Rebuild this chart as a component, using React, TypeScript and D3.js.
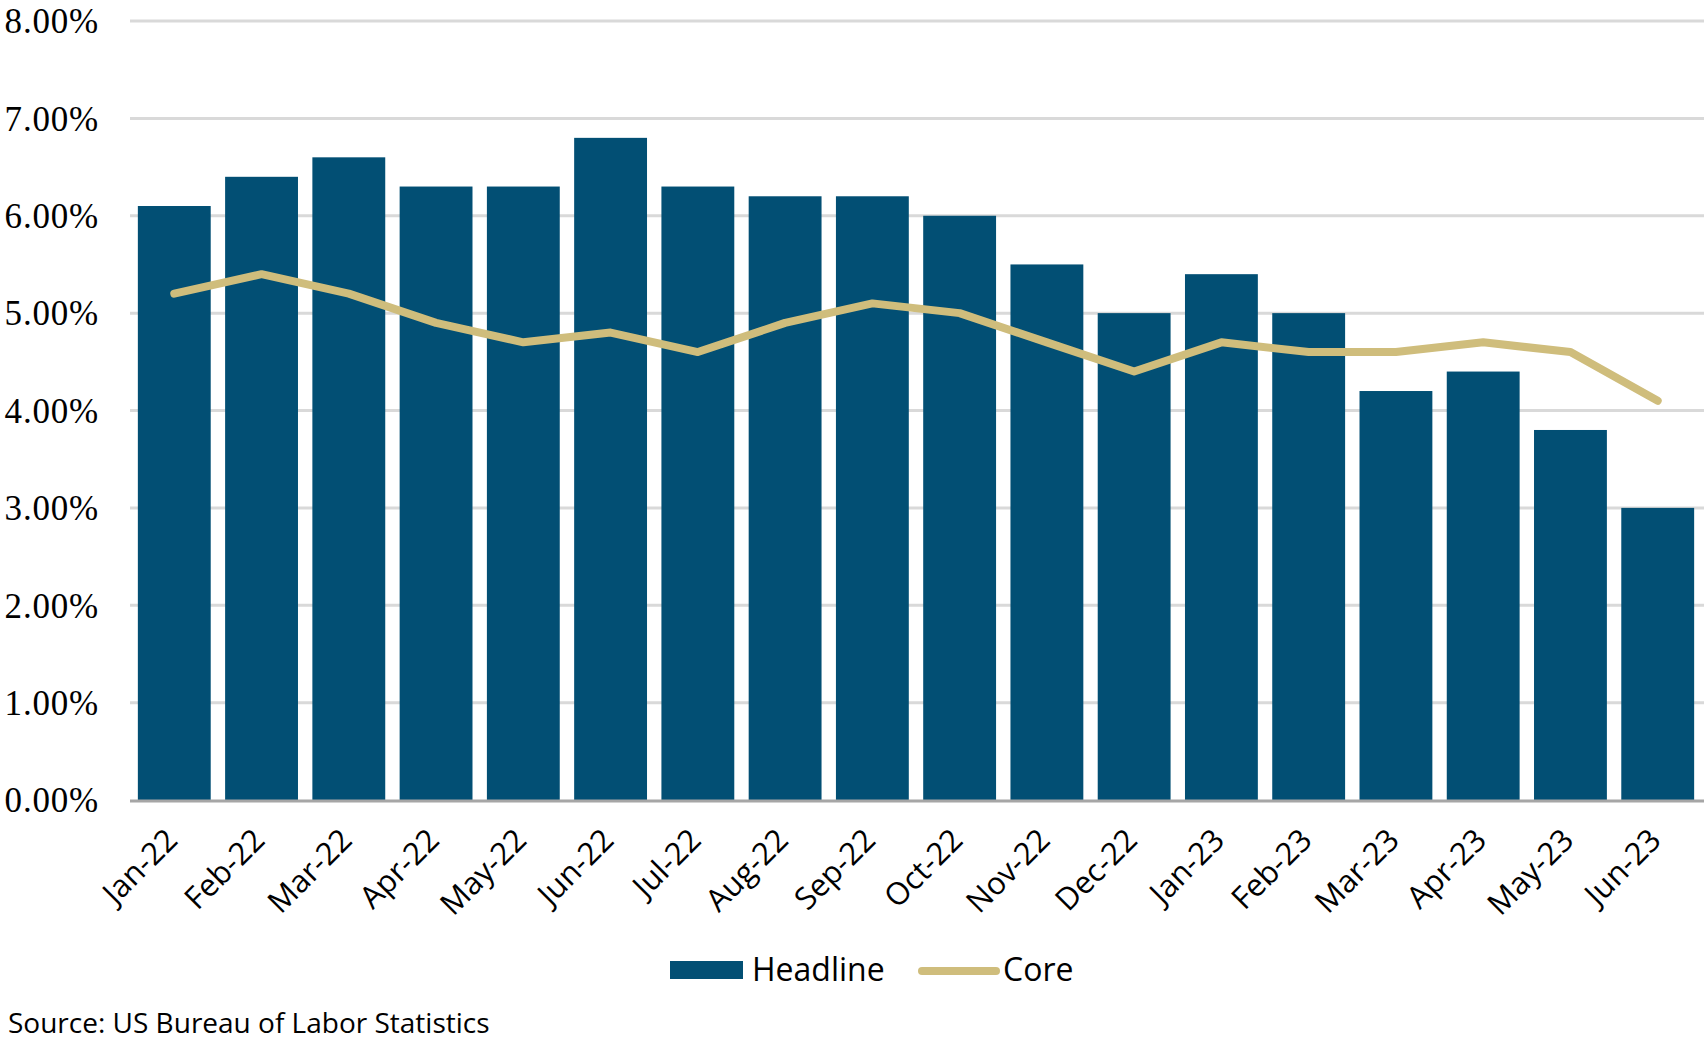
import React, { useEffect, useRef } from "react";
import * as d3 from "d3";

const categories = ["Jan-22","Feb-22","Mar-22","Apr-22","May-22","Jun-22","Jul-22","Aug-22","Sep-22","Oct-22","Nov-22","Dec-22","Jan-23","Feb-23","Mar-23","Apr-23","May-23","Jun-23"];
const headline = [6.1,6.4,6.6,6.3,6.3,6.8,6.3,6.2,6.2,6.0,5.5,5.0,5.4,5.0,4.2,4.4,3.8,3.0];
const core = [5.2,5.4,5.2,4.9,4.7,4.8,4.6,4.9,5.1,5.0,4.7,4.4,4.7,4.6,4.6,4.7,4.6,4.1];
const yTicks = [0,1,2,3,4,5,6,7,8];
const seriesNames = ["Headline","Core"];
const sourceText = "Source: US Bureau of Labor Statistics";

const BAR = "#024f74";
const LINE = "#cfbd7c";

export default function App() {
  const ref = useRef<SVGSVGElement>(null);
  useEffect(() => {
    const svg = d3.select(ref.current);
    svg.selectAll("*").remove();
    const x = d3.scaleBand<string>().domain(categories).range([130, 1702]).paddingInner(0.165).paddingOuter(0.09);
    const y = d3.scaleLinear().domain([0, 8]).range([800, 21]);

    // gridlines
    svg.append("g").selectAll("line").data(yTicks.filter(t => t > 0)).join("line")
      .attr("x1", 130).attr("x2", 1704)
      .attr("y1", d => y(d)).attr("y2", d => y(d))
      .attr("stroke", "#d9d9d9").attr("stroke-width", 3);

    // y labels
    svg.append("g").selectAll("text").data(yTicks).join("text")
      .attr("x", 99).attr("y", d => y(d)).attr("dy", "0.35em")
      .attr("text-anchor", "end")
      .attr("font-family", "'Liberation Serif', serif").attr("font-size", 35)
      .attr("letter-spacing", 0.8).attr("fill", "#000")
      .text(d => d.toFixed(2) + "%");

    // bars
    svg.append("g").selectAll("rect").data(headline).join("rect")
      .attr("x", (_, i) => x(categories[i])!)
      .attr("width", x.bandwidth())
      .attr("y", d => y(d))
      .attr("height", d => y(0) - y(d))
      .attr("fill", BAR);

    // axis line
    svg.append("line").attr("x1", 130).attr("x2", 1704).attr("y1", y(0) + 1).attr("y2", y(0) + 1)
      .attr("stroke", "#a6a6a6").attr("stroke-width", 3);

    // core line
    const line = d3.line<number>()
      .x((_, i) => x(categories[i])! + x.bandwidth() / 2)
      .y(d => y(d));
    svg.append("path").datum(core).attr("d", line)
      .attr("fill", "none").attr("stroke", LINE).attr("stroke-width", 8)
      .attr("stroke-linecap", "round").attr("stroke-linejoin", "round");

    // x labels
    svg.append("g").selectAll("text").data(categories).join("text")
      .attr("transform", d => `translate(${x(d)! + x.bandwidth() / 2 + 5},${842}) rotate(-45)`)
      .attr("text-anchor", "end")
      .attr("font-family", "'Open Sans', sans-serif").attr("font-size", 31).attr("fill", "#000")
      .text(d => d);

    // legend
    const lg = svg.append("g");
    lg.append("rect").attr("x", 670).attr("y", 961).attr("width", 73).attr("height", 18).attr("fill", BAR);
    lg.append("text").attr("x", 752).attr("y", 970).attr("dy", "0.35em")
      .attr("font-family", "'Open Sans', sans-serif").attr("font-size", 32).text(seriesNames[0]);
    lg.append("line").attr("x1", 922).attr("x2", 996).attr("y1", 971).attr("y2", 971)
      .attr("stroke", LINE).attr("stroke-width", 8).attr("stroke-linecap", "round");
    lg.append("text").attr("x", 1003).attr("y", 970).attr("dy", "0.35em")
      .attr("font-family", "'Open Sans', sans-serif").attr("font-size", 32).text(seriesNames[1]);

    svg.append("text").attr("x", 8).attr("y", 1033)
      .attr("font-family", "'Open Sans', sans-serif").attr("font-size", 28).text(sourceText);
  }, []);
  return (
    <svg ref={ref} width={1704} height={1040} style={{ position: "absolute", left: 0, top: 0, background: "#fff" }} />
  );
}
